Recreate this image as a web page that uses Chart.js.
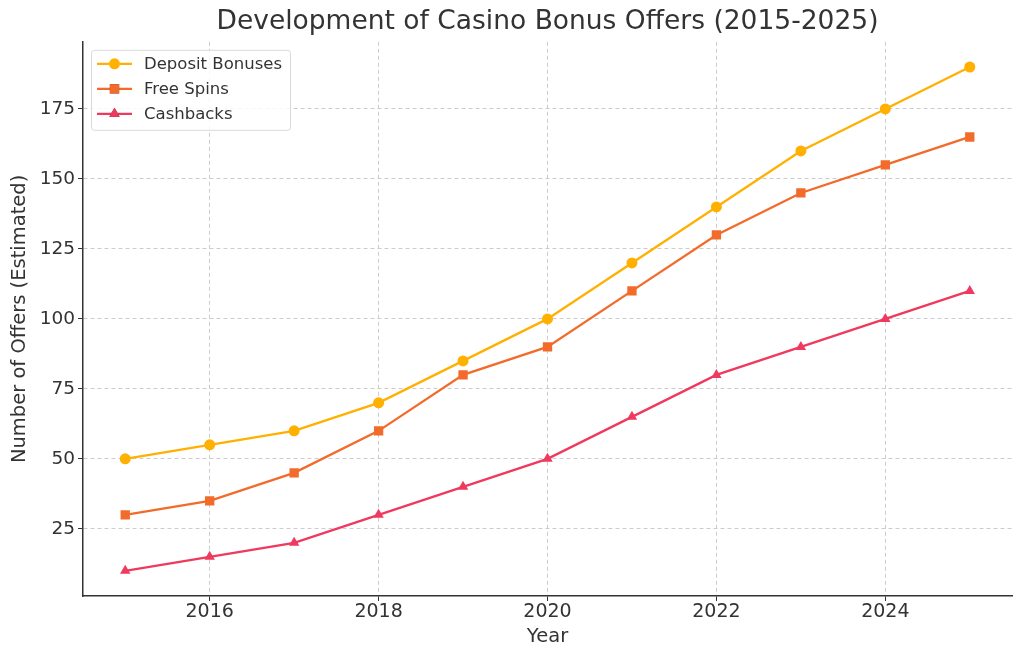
<!DOCTYPE html>
<html>
<head>
<meta charset="utf-8">
<script src="https://cdn.jsdelivr.net/npm/chart.js@4"></script>
<style>
  html, body { margin: 0; padding: 0; background: #fff; }
  #wrap { width: 1024px; height: 660px; }
</style>
</head>
<body>
<div id="wrap"><canvas id="myChart" width="1024" height="660"></canvas></div>
<script>
const years = [2015, 2016, 2017, 2018, 2019, 2020, 2021, 2022, 2023, 2024, 2025];
const depositBonuses = [50, 55, 60, 70, 85, 100, 120, 140, 160, 175, 190];
const freeSpins = [30, 35, 45, 60, 80, 90, 110, 130, 145, 155, 165];
const cashbacks = [10, 15, 20, 30, 40, 50, 65, 80, 90, 100, 110];
const xTicks = [2016, 2018, 2020, 2022, 2024];
const yTicks = [25, 50, 75, 100, 125, 150, 175];

const FONT = "'DejaVu Sans', sans-serif";
const TEXT = "#333333";

const toPoints = (vals) => vals.map((v, i) => ({ x: years[i], y: v }));

const data = {
  datasets: [
    {
      label: "Deposit Bonuses",
      data: toPoints(depositBonuses),
      borderColor: "#FFB000",
      backgroundColor: "#FFB000",
      pointStyle: "circle",
      pointRadius: 5.5,
    },
    {
      label: "Free Spins",
      data: toPoints(freeSpins),
      borderColor: "#F26B2A",
      backgroundColor: "#F26B2A",
      pointStyle: "rect",
      pointRadius: 6.6,
    },
    {
      label: "Cashbacks",
      data: toPoints(cashbacks),
      borderColor: "#F0395E",
      backgroundColor: "#F0395E",
      pointStyle: "triangle",
      pointRadius: 6,
    },
  ],
};

// matplotlib-like legend box drawn inside the plot, top-left
const insideLegend = {
  id: "insideLegend",
  afterDraw(chart) {
    const { ctx, chartArea } = chart;
    const x0 = chartArea.left + 8, y0 = chartArea.top + 8;
    const w = 199, h = 80, rowH = 25;
    ctx.save();
    ctx.fillStyle = "rgba(255,255,255,0.85)";
    ctx.strokeStyle = "#d9d9d9";
    ctx.lineWidth = 1;
    ctx.beginPath();
    ctx.roundRect(x0 + 0.5, y0 + 0.5, w, h, 3);
    ctx.fill();
    ctx.stroke();
    chart.data.datasets.forEach((ds, i) => {
      const cy = y0 + 14 + i * rowH;
      ctx.strokeStyle = ds.borderColor;
      ctx.lineWidth = 2.3;
      ctx.beginPath();
      ctx.moveTo(x0 + 6, cy);
      ctx.lineTo(x0 + 41, cy);
      ctx.stroke();
      Chart.helpers.drawPoint(ctx, {
        pointStyle: ds.pointStyle, radius: ds.pointRadius, rotation: 0, borderWidth: 0,
      }, x0 + 23.5, cy);
      ctx.fillStyle = ds.backgroundColor;
      ctx.fill();
      ctx.fillStyle = TEXT;
      ctx.font = "16.5px " + FONT;
      ctx.textBaseline = "middle";
      ctx.fillText(ds.label, x0 + 53, cy + 1);
    });
    ctx.restore();
  },
};

const gridOpts = {
  color: "#cccccc",
  tickColor: "#333333",
  tickLength: 5,
  tickBorderDash: [],
};

const config = {
  type: "line",
  data: data,
  options: {
    responsive: false,
    animation: false,
    layout: { padding: { left: 0, right: 12, top: 0, bottom: 0 } },
    elements: {
      line: { borderWidth: 2.3, tension: 0 },
      point: { borderWidth: 0 },
    },
    plugins: {
      legend: { display: false },
      tooltip: { enabled: false },
      title: {
        display: true,
        fullSize: false,
        text: "Development of Casino Bonus Offers (2015-2025)",
        color: TEXT,
        font: { family: FONT, size: 26.5, weight: "normal" },
        padding: { top: 6, bottom: 4 },
      },
    },
    scales: {
      x: {
        type: "linear",
        min: 2014.5,
        max: 2025.5,
        afterBuildTicks: (scale) => { scale.ticks = xTicks.map((v) => ({ value: v })); },
        afterFit: (scale) => { scale.height = 64; },
        ticks: {
          color: TEXT,
          font: { family: FONT, size: 19 },
          padding: 0,
          maxRotation: 0,
          callback: (v) => String(v),
        },
        grid: gridOpts,
        border: { color: "#333333", width: 1.5, dash: [4, 3] },
        title: {
          display: true,
          text: "Year",
          color: TEXT,
          font: { family: FONT, size: 19.5 },
          padding: { top: 0, bottom: 11 },
        },
      },
      y: {
        min: 1,
        max: 199,
        afterBuildTicks: (scale) => { scale.ticks = yTicks.map((v) => ({ value: v })); },
        afterFit: (scale) => { scale.width = 83; },
        ticks: {
          color: TEXT,
          font: { family: FONT, size: 18.5 },
          padding: 3,
        },
        grid: gridOpts,
        border: { color: "#333333", width: 1.5, dash: [4, 3] },
        title: {
          display: true,
          text: "Number of Offers (Estimated)",
          color: TEXT,
          font: { family: FONT, size: 19.5 },
          padding: { top: 8, bottom: 0 },
        },
      },
    },
  },
  plugins: [insideLegend],
};

new Chart(document.getElementById("myChart"), config);
</script>
</body>
</html>
